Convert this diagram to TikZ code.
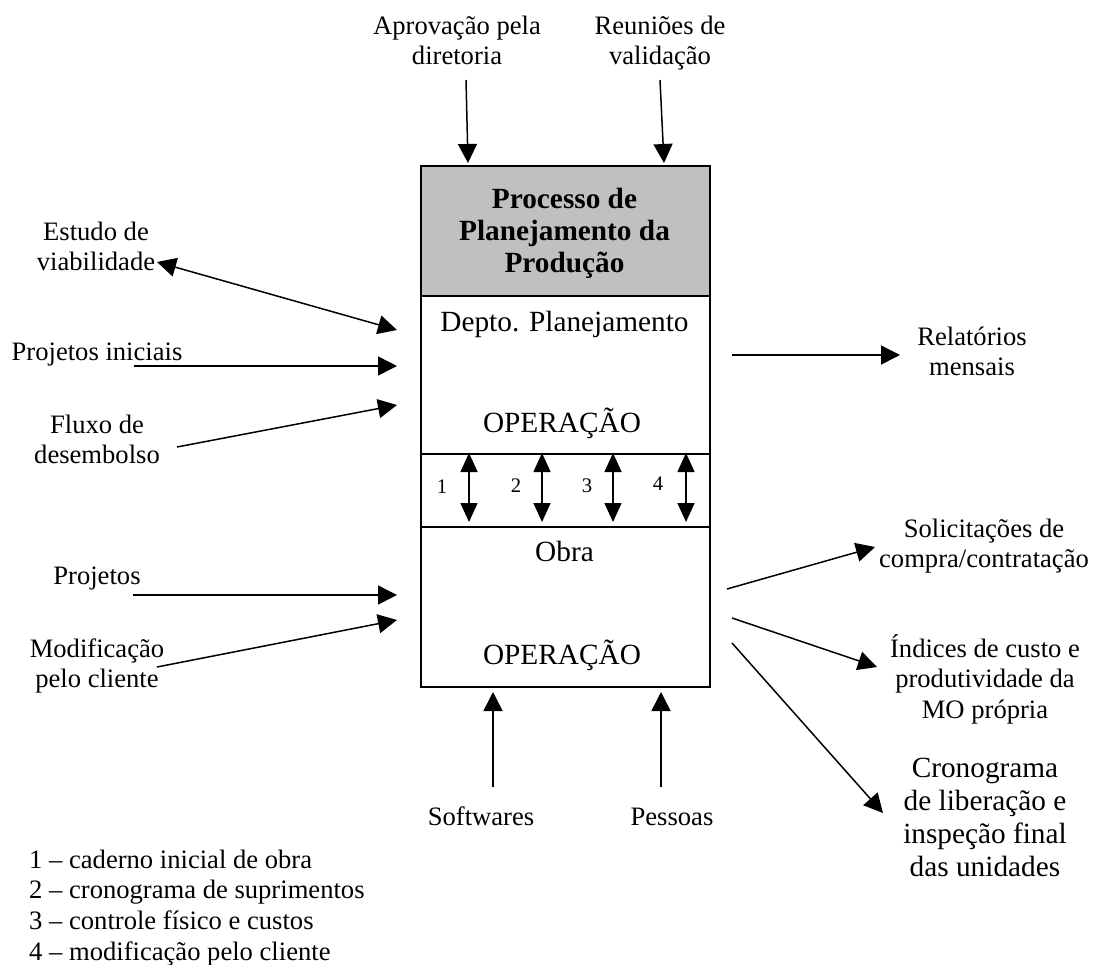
\documentclass[tikz,border=0pt]{standalone}
\usepackage{fontspec}
\setmainfont{Liberation Serif}
\usetikzlibrary{arrows.meta}
\definecolor{titlegray}{RGB}{192,192,192}

\begin{document}
\begin{tikzpicture}[x=1pt,y=-1pt,
  lbl/.style={align=center, inner sep=0pt, font=\fontsize{26.6}{30.6}\selectfont},
  boxtxt/.style={inner sep=0pt, anchor=base, font=\fontsize{29.3}{33.7}\selectfont},
  big/.style={align=center, inner sep=0pt, font=\fontsize{29.3}{33.3}\selectfont},
  num/.style={inner sep=0pt, anchor=base, font=\fontsize{20.7}{24}\selectfont},
  part/.style={draw, line width=1.5pt, anchor=north west, inner sep=0pt, minimum width=289pt},
  flow/.style={line width=1.5pt, -{Triangle[length=19pt,width=19pt]}},
  both/.style={line width=1.5pt, {Triangle[length=19pt,width=19pt]}-{Triangle[length=19pt,width=19pt]}},
  link/.style={line width=1.5pt, {Triangle[length=19pt,width=17pt]}-{Triangle[length=19pt,width=17pt]}}
]
\useasboundingbox (0,0) rectangle (1097,964);

% process block: title, planning department, links, site
\node[part, fill=titlegray, minimum height=130pt] (title) at (420,165) {};
\node[part, minimum height=158pt] (depto) at (420,295) {};
\node[part, minimum height=73pt] (strip) at (420,453) {};
\node[part, minimum height=160pt] (obra) at (420,526) {};

\node[align=center, inner sep=0pt, font=\bfseries\fontsize{29.3}{32}\selectfont] (titletext) at (564.5,234.5)
  {\strut Processo de\\\strut Planejamento da\\\strut Produção};
\node[boxtxt] (deptoname) at (564.5,331) {Depto. Planejamento};
\node[boxtxt] (deptoop) at (562,432) {OPERAÇÃO};
\node[boxtxt] (obraname) at (564.5,561) {Obra};
\node[boxtxt] (obraop) at (562,664) {OPERAÇÃO};

% numbered links between department and site
\node[num] (n1) at (442,493) {1};
\node[num] (n2) at (516,492) {2};
\node[num] (n3) at (587,492) {3};
\node[num] (n4) at (658,490) {4};
\foreach \x [count=\i] in {469,542,613,686} {
  \coordinate (l\i t) at (\x,453);
  \coordinate (l\i b) at (\x,522);
  \draw[link] (l\i t) -- (l\i b);
}

% controls on top
\node[lbl] (approv) at (457,43.2) {\strut Aprovação pela\\\strut diretoria};
\node[lbl] (reun) at (660,43.2) {\strut Reuniões de\\\strut validação};
\coordinate (approvs) at (466,80);
\coordinate (approve) at (468,163);
\coordinate (reuns) at (660,80);
\coordinate (reune) at (664,163);
\draw[flow] (approvs) -- (approve);
\draw[flow] (reuns) -- (reune);

% inputs on the left
\node[lbl] (estudo) at (96,249.2) {\strut Estudo de\\\strut viabilidade};
\node[lbl, anchor=base] (projini) at (97,360) {Projetos iniciais};
\node[lbl] (fluxo) at (97,442.2) {\strut Fluxo de\\\strut desembolso};
\node[lbl, anchor=base] (projetos) at (97,584) {Projetos};
\node[lbl] (modif) at (97,666.2) {\strut Modificação\\\strut pelo cliente};

\coordinate (estudos) at (157,262);
\coordinate (estudoe) at (397,330);
\coordinate (projinis) at (134,366);
\coordinate (projinie) at (397,366);
\coordinate (fluxos) at (177,447);
\coordinate (fluxoe) at (397,405);
\coordinate (projetoss) at (133,595);
\coordinate (projetose) at (397,595);
\coordinate (modifs) at (157,667);
\coordinate (modife) at (397,620);
\draw[both] (estudos) -- (estudoe);
\draw[flow] (projinis) -- (projinie);
\draw[flow] (fluxos) -- (fluxoe);
\draw[flow] (projetoss) -- (projetose);
\draw[flow] (modifs) -- (modife);

% outputs on the right
\node[lbl] (relat) at (972,354.2) {\strut Relatórios\\\strut mensais};
\node[lbl] (solic) at (984,546.2) {\strut Solicitações de\\\strut compra/contratação};
\node[lbl] (indices) at (985,680.9) {\strut Índices de custo e\\\strut produtividade da\\\strut MO própria};
\node[big] (crono) at (985,820.3) {\strut Cronograma\\\strut de liberação e\\\strut inspeção final\\\strut das unidades};

\coordinate (relats) at (732,355);
\coordinate (relate) at (900,355);
\coordinate (solics) at (727,589);
\coordinate (solice) at (875,547);
\coordinate (indicess) at (732,618);
\coordinate (indicese) at (877,667);
\coordinate (cronos) at (732,643);
\coordinate (cronoe) at (883,813);
\draw[flow] (relats) -- (relate);
\draw[flow] (solics) -- (solice);
\draw[flow] (indicess) -- (indicese);
\draw[flow] (cronos) -- (cronoe);

% mechanisms at the bottom
\node[lbl, anchor=base] (soft) at (481,825) {Softwares};
\node[lbl, anchor=base] (pessoas) at (672,825) {Pessoas};
\coordinate (softs) at (493,787);
\coordinate (softe) at (493,692);
\coordinate (pessoass) at (661,787);
\coordinate (pessoase) at (661,692);
\draw[flow] (softs) -- (softe);
\draw[flow] (pessoass) -- (pessoase);

% key to the numbered links
\node[lbl, align=left, anchor=north west] (legend) at (29,846.6)
  {\strut 1 – caderno inicial de obra\\\strut 2 – cronograma de suprimentos\\\strut 3 – controle físico e custos\\\strut 4 – modificação pelo cliente};
\end{tikzpicture}
\end{document}
